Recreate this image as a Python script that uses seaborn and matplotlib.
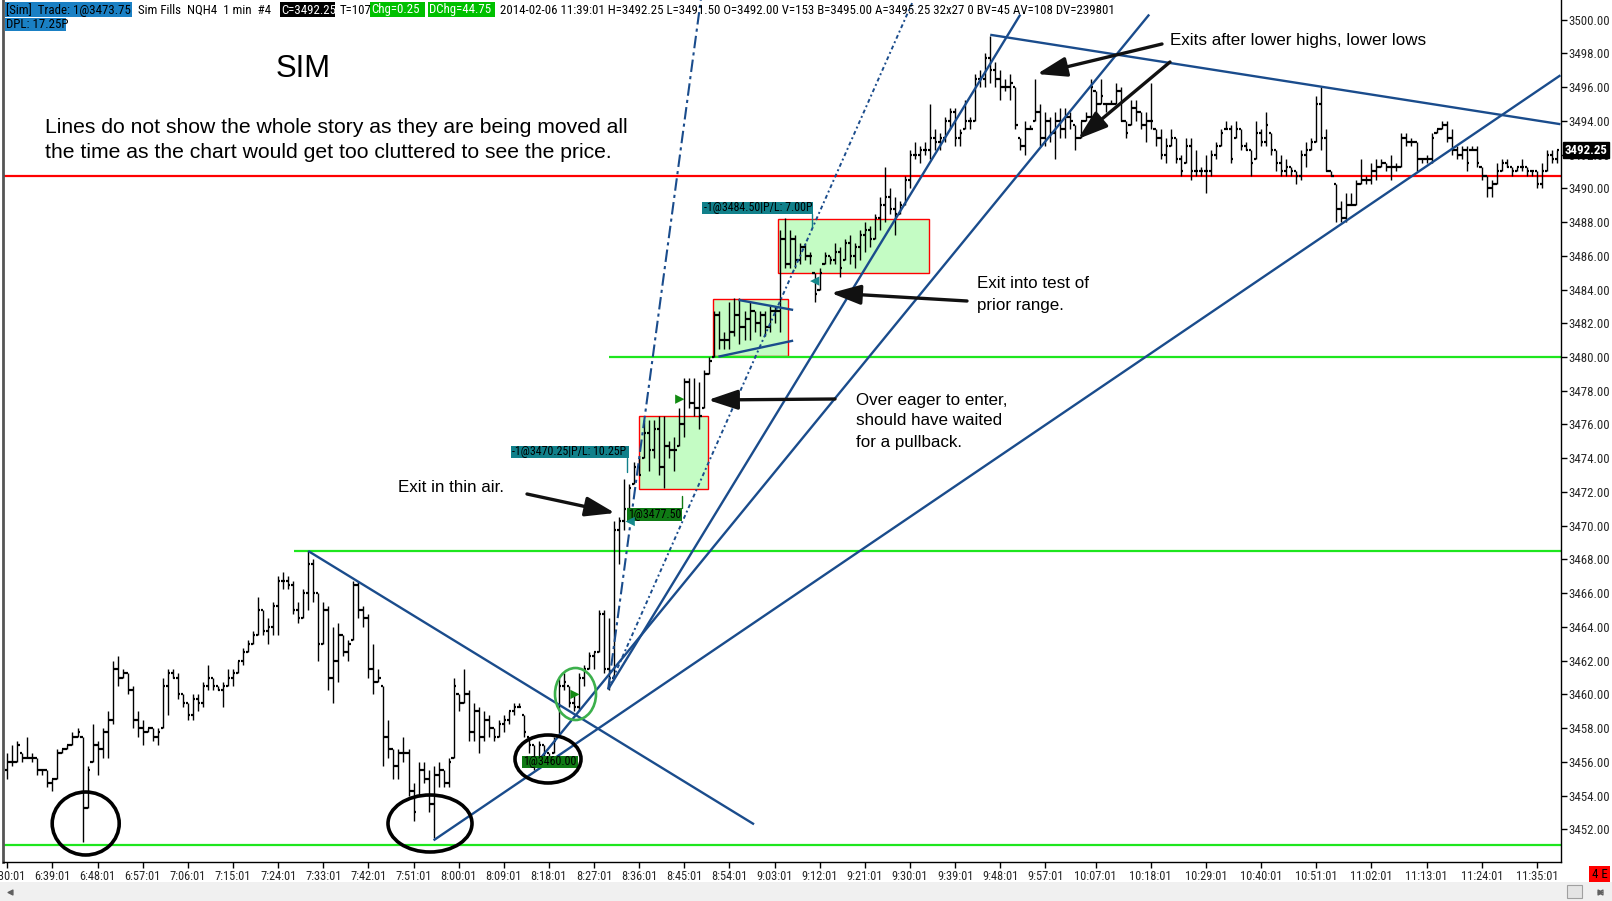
import numpy as np
import pandas as pd
import matplotlib
matplotlib.use("Agg")
import matplotlib.pyplot as plt
import seaborn as sns
from matplotlib.patches import Rectangle, Ellipse
from matplotlib import font_manager as fm

sns.set_theme(style="white")
avail = {f.name for f in fm.fontManager.ttflist}
def pick(*names):
    for n in names:
        if n in avail:
            return n
    return "DejaVu Sans"
NARROW = pick("Liberation Sans Narrow", "DejaVu Sans Condensed", "Roboto Condensed", "Liberation Sans")
SANS = pick("Liberation Sans", "Arial", "DejaVu Sans")
plt.rcParams["font.family"] = [SANS, "DejaVu Sans"]

# ---------------- data (1-minute bars, NQH4, 6:30:01 .. 11:39:01) ----------------
highs = (
 [3456.4,3456.9,3457.3,3456.6,3457.5,3456.5,3456.3,3455.6,3455.6,3455.1] +
 [3456.7,3456.8,3457.1,3457.7,3458.0,3457.5,3455.8,3458.3,3457.3,3458.0] +
 [3459.0,3462.0,3462.3,3461.5,3461.2,3460.4,3459.0,3458.4,3458.1,3458.1] +
 [3458.0,3460.9,3461.5,3461.4,3461.3,3459.9,3459.5,3460.1,3460.1,3460.8] +
 [3461.7,3461.1,3460.5,3460.7,3461.5,3461.6,3462.1,3462.8,3463.3,3463.8] +
 [3465.8,3465.0,3464.6,3465.6,3467.0,3467.2,3467.1,3466.8,3465.6,3466.3] +
 [3468.5,3467.9,3466.0,3465.5,3465.3,3463.9,3464.2,3463.4,3463.3,3466.8] +
 [3466.8,3465.2,3464.7,3462.9,3461.4,3460.6,3458.5,3456.8,3456.8,3457.5] +
 [3456.7,3454.8,3456.0,3456.0,3455.5,3455.8,3456.0,3455.5,3456.3,3461.0] +
 [3460.1,3461.5,3460.2,3459.5,3459.3,3459.0,3458.7,3457.9,3458.5,3458.8] +
 [3459.1,3459.6,3459.6,3458.8,3457.4,3457.1,3457.2,3457.1,3456.6,3457.5] +
 [3461.0,3461.2,3460.6,3459.9,3461.3,3461.7,3462.6,3462.6,3465.0,3465.0] +
 [3464.6,3470.25,3470.6,3472.8,3472.5,3473.8,3474.1,3476.3,3476.3,3476.2] +
 [3476.5,3476.5,3475.1,3475.3,3476.9,3478.7,3478.7,3478.7,3478.6,3479.3] +
 [3479.9,3482.8,3482.7,3481.4,3483.2,3483.4,3483.4,3482.7,3483.3,3482.8] +
 [3482.8,3482.8,3483.1,3483.1,3487.6,3488.2,3487.6,3487.2,3486.8,3486.7] +
 [3486.2,3485.0,3485.3,3486.2,3486.0,3486.8,3486.5,3487.0,3487.3,3486.8] +
 [3487.5,3488.0,3487.8,3488.5,3489.5,3491.3,3489.9,3489.4,3489.3,3490.8] +
 [3492.3,3492.7,3492.6,3492.7,3494.9,3493.6,3493.3,3494.2,3494.7,3494.7] +
 [3493.5,3495.2,3494.3,3496.8,3497.1,3498.0,3499.1,3497.6,3497.0,3496.5] +
 [3496.7,3496.1,3493.1,3494.1,3493.7,3496.4,3494.9,3494.4,3494.3,3494.6] +
 [3494.7,3494.7,3494.5,3493.8,3494.1,3494.4,3496.6,3495.7,3496.4,3495.1] +
 [3495.2,3496.2,3495.9,3494.1,3495.3,3495.2,3494.5,3494.6,3496.2,3493.6] +
 [3493.5,3493.0,3493.6,3493.1,3491.9,3493.0,3493.1,3492.3,3491.3,3491.9] +
 [3492.3,3492.7,3493.6,3493.9,3493.7,3493.9,3493.5,3492.8,3492.3,3493.9] +
 [3493.5,3494.4,3493.2,3492.3,3491.9,3491.7,3491.2,3490.9,3492.3,3492.7] +
 [3492.9,3495.4,3495.9,3493.5,3491.0,3490.2,3489.2,3489.7,3489.8,3490.6] +
 [3491.7,3490.7,3491.6,3491.7,3491.7,3491.6,3491.9,3491.5,3493.3,3493.2] +
 [3492.9,3492.8,3491.8,3492.0,3493.3,3493.6,3493.9,3493.9,3493.6,3492.4] +
 [3492.4,3492.5,3492.4,3492.5,3491.3,3490.7,3490.6,3491.4,3491.8,3491.7] +
 [3491.3,3491.3,3491.7,3491.2,3491.1,3490.9,3491.4,3492.3,3492.3,3492.25]
)
lows = (
 [3455.1,3455.7,3456.1,3456.1,3456.2,3456.1,3455.3,3455.3,3454.4,3454.3] +
 [3455.0,3456.5,3456.7,3457.1,3457.5,3451.2,3453.2,3456.0,3455.3,3456.2] +
 [3456.2,3458.3,3460.6,3460.9,3460.0,3458.1,3457.6,3457.1,3457.8,3457.2] +
 [3457.0,3458.0,3458.8,3460.9,3459.8,3459.3,3458.5,3458.5,3459.1,3459.2] +
 [3460.2,3460.3,3460.2,3459.3,3460.5,3460.6,3461.2,3461.8,3462.4,3463.0] +
 [3463.4,3463.4,3463.0,3463.4,3463.6,3466.3,3466.3,3464.8,3464.2,3464.4] +
 [3465.0,3465.4,3462.0,3462.9,3460.3,3459.6,3460.8,3462.2,3462.0,3463.2] +
 [3464.5,3464.1,3461.0,3459.9,3460.7,3455.8,3456.2,3455.1,3454.9,3456.0] +
 [3453.9,3452.4,3453.9,3454.7,3453.0,3451.4,3454.6,3454.4,3454.5,3456.3] +
 [3459.0,3459.4,3457.3,3457.3,3456.6,3457.2,3457.4,3457.3,3457.5,3457.7] +
 [3458.2,3458.8,3459.2,3457.5,3456.5,3455.4,3456.3,3456.1,3455.9,3456.5] +
 [3457.5,3460.3,3459.3,3459.1,3459.0,3460.5,3461.4,3461.5,3462.4,3461.2] +
 [3460.3,3461.0,3467.8,3469.7,3471.0,3472.4,3472.9,3473.9,3473.3,3474.1] +
 [3473.1,3472.2,3473.9,3473.2,3474.7,3475.2,3476.9,3476.5,3475.8,3477.0] +
 [3479.0,3480.0,3480.4,3480.6,3480.6,3481.2,3480.8,3481.0,3481.1,3481.4] +
 [3481.2,3481.2,3481.6,3481.9,3481.5,3485.2,3485.2,3485.2,3485.4,3485.7] +
 [3485.6,3483.2,3484.0,3485.4,3485.6,3485.5,3484.8,3485.8,3485.5,3485.3] +
 [3485.8,3486.3,3486.5,3487.0,3487.5,3488.1,3488.5,3487.3,3488.5,3489.0] +
 [3490.1,3491.7,3491.5,3491.9,3491.7,3492.2,3492.3,3492.7,3493.5,3492.4] +
 [3492.4,3493.5,3493.6,3494.1,3496.0,3496.1,3496.3,3496.0,3495.3,3495.7] +
 [3495.3,3493.5,3492.2,3492.0,3493.4,3493.9,3492.4,3492.4,3492.7,3491.8] +
 [3492.9,3493.0,3493.6,3492.3,3492.9,3494.0,3494.1,3494.6,3494.9,3494.6] +
 [3494.9,3495.1,3493.9,3493.0,3493.7,3494.1,3493.5,3492.8,3493.5,3492.4] +
 [3491.7,3491.4,3492.4,3491.4,3490.8,3491.5,3490.5,3490.7,3490.7,3489.8] +
 [3490.7,3491.8,3492.4,3493.4,3491.4,3493.0,3492.3,3492.2,3490.7,3491.8] +
 [3492.4,3492.4,3491.9,3491.0,3490.8,3490.8,3490.8,3490.2,3490.6,3491.3] +
 [3492.3,3492.7,3492.3,3490.9,3490.8,3488.1,3488.1,3488.0,3488.9,3488.9] +
 [3490.3,3490.2,3490.3,3490.6,3491.3,3490.9,3490.5,3491.1,3491.2,3492.6] +
 [3492.6,3491.1,3491.6,3491.6,3491.6,3493.3,3493.6,3492.8,3492.0,3491.8] +
 [3491.8,3491.0,3492.2,3491.3,3490.6,3489.6,3489.5,3490.3,3491.1,3491.2] +
 [3490.8,3491.1,3491.0,3490.8,3490.8,3490.1,3490.0,3491.1,3491.5,3491.5]
)
closes = (
 [3456.0,3456.0,3457.0,3456.25,3456.25,3456.25,3455.5,3455.5,3454.75,3455.0] +
 [3456.5,3456.75,3457.0,3457.5,3457.75,3453.25,3455.5,3457.0,3456.75,3457.75] +
 [3458.5,3461.5,3461.0,3461.25,3460.25,3458.5,3458.0,3457.75,3458.0,3457.5] +
 [3457.75,3460.5,3461.25,3461.0,3460.0,3459.5,3458.75,3459.75,3459.5,3460.5] +
 [3461.0,3460.5,3460.25,3460.5,3461.0,3461.25,3462.0,3462.5,3463.0,3463.5] +
 [3465.0,3463.75,3464.0,3465.25,3466.75,3466.75,3466.5,3465.0,3464.5,3466.0] +
 [3467.75,3466.0,3463.0,3465.0,3461.0,3462.0,3463.5,3462.5,3463.0,3466.5] +
 [3465.0,3464.5,3461.5,3460.75,3461.0,3457.5,3456.75,3455.75,3456.5,3456.5] +
 [3454.25,3453.0,3455.5,3455.0,3453.5,3455.25,3455.5,3454.75,3456.0,3460.5] +
 [3459.5,3460.0,3457.75,3459.0,3457.5,3458.5,3458.0,3457.5,3458.25,3458.5] +
 [3459.0,3459.25,3459.25,3457.75,3457.0,3456.25,3457.0,3456.5,3456.25,3457.25] +
 [3460.5,3460.75,3459.5,3459.25,3461.0,3461.5,3462.25,3462.5,3464.75,3461.5] +
 [3461.0,3469.75,3470.25,3471.0,3472.25,3473.5,3473.0,3475.5,3474.5,3475.75] +
 [3473.5,3474.75,3474.5,3474.5,3476.0,3478.5,3477.25,3477.0,3476.5,3479.0] +
 [3479.75,3482.5,3481.0,3481.0,3481.5,3482.5,3481.75,3482.25,3482.75,3482.0] +
 [3482.5,3481.75,3482.75,3482.75,3487.0,3485.5,3487.0,3485.75,3486.5,3486.0] +
 [3486.0,3483.75,3485.0,3486.0,3485.75,3486.25,3485.25,3486.75,3486.0,3486.5] +
 [3487.25,3487.5,3487.0,3488.25,3489.0,3489.5,3488.75,3488.5,3489.0,3490.5] +
 [3492.0,3492.0,3492.25,3492.25,3493.0,3492.75,3493.0,3494.0,3494.5,3493.0] +
 [3493.25,3494.0,3494.0,3496.5,3496.5,3497.75,3497.0,3496.5,3496.0,3496.0] +
 [3496.25,3493.75,3492.5,3493.5,3493.5,3494.5,3493.0,3494.0,3493.25,3494.0] +
 [3493.5,3494.25,3494.0,3493.0,3494.0,3494.25,3496.0,3495.0,3495.5,3495.0] +
 [3495.0,3495.75,3494.0,3493.25,3494.75,3494.5,3493.75,3494.0,3494.0,3493.0] +
 [3492.0,3492.5,3493.0,3491.75,3491.0,3492.5,3491.0,3491.0,3491.0,3491.0] +
 [3492.0,3492.5,3493.25,3493.5,3491.75,3493.5,3492.5,3492.25,3491.5,3493.25] +
 [3492.75,3493.75,3492.25,3491.5,3491.0,3491.25,3491.0,3490.75,3492.0,3492.25] +
 [3492.75,3495.0,3493.0,3491.0,3490.75,3488.75,3488.25,3489.0,3489.0,3490.25] +
 [3490.5,3490.5,3491.0,3491.25,3491.5,3491.25,3491.25,3491.25,3493.0,3492.75] +
 [3492.75,3491.75,3491.75,3491.75,3493.0,3493.5,3493.75,3493.0,3492.25,3492.0] +
 [3492.25,3491.5,3492.25,3491.5,3490.75,3490.0,3490.25,3491.0,3491.5,3491.25] +
 [3491.0,3491.25,3491.25,3491.0,3491.0,3490.25,3491.0,3492.0,3491.75,3492.25]
)
first_open = 3455.5

time_labels = ["6:30:01","6:39:01","6:48:01","6:57:01","7:06:01","7:15:01","7:24:01","7:33:01",
               "7:42:01","7:51:01","8:00:01","8:09:01","8:18:01","8:27:01","8:36:01","8:45:01",
               "8:54:01","9:03:01","9:12:01","9:21:01","9:30:01","9:39:01","9:48:01","9:57:01",
               "10:07:01","10:18:01","10:29:01","10:40:01","10:51:01","11:02:01","11:13:01",
               "11:24:01","11:35:01"]
price_ticks = list(range(3452, 3501, 2))

# horizontal levels: (price, colour, start minute)
levels = [(3490.7, "#ff0000", -1.0), (3480.0, "#1ee61e", 120.0),
          (3468.5, "#1ee61e", 57.2), (3451.1, "#1ee61e", -1.0)]
# trend lines (minute0, price0, minute1, price1, style)
trend_lines = [
    (60.0, 3468.5, 148.9, 3452.3, "-"),
    (85.0, 3451.35, 309.7, 3496.7, "-"),
    (196.0, 3499.1, 309.7, 3493.8, "-"),
    (104.9, 3455.7, 227.7, 3500.3, "-"),
    (119.8, 3460.3, 202.0, 3500.3, "-"),
    (119.8, 3460.3, 180.6, 3501.1, "dots"),
    (119.8, 3460.3, 138.3, 3501.2, "dashdot"),
    (145.8, 3483.38, 156.7, 3482.79, "-"),
    (141.8, 3480.02, 156.7, 3480.97, "-"),
]
# consolidation boxes (minute0, minute1, price_low, price_high)
boxes = [(125.9, 139.8, 3472.2, 3476.5), (140.8, 155.7, 3480.08, 3483.44), (153.7, 183.7, 3484.96, 3488.16)]
# executions
exec_min = [113.2, 124.2, 134.1, 161.0]
exec_px = [3460.0, 3470.25, 3477.5, 3484.5]
exec_side = ["buy", "sell", "buy", "sell"]

# ---------------- figure geometry ----------------
W, H = 1612, 901
fig = plt.figure(figsize=(W / 100, H / 100), dpi=100)
fig.patch.set_facecolor("white")
X0PX, XPM, Y0PX, YPP, P0 = 7.3, 5.015, 357.0, 16.87, 3480.0
def px2m(x): return (x - X0PX) / XPM
def px2p(y): return P0 - (y - Y0PX) / YPP
AX_L, AX_R, AX_T, AX_B = 3, 1560.5, 0, 862
ax = fig.add_axes([AX_L / W, 1 - AX_B / H, (AX_R - AX_L) / W, (AX_B - AX_T) / H])
ax.set_facecolor("white")
ax.set_xlim(px2m(AX_L), px2m(AX_R))
ax.set_ylim(px2p(AX_B), px2p(AX_T))
R = fig.canvas.get_renderer()

def fit_size(text, width, family, base=10, **kw):
    t = fig.text(0, 0, text, fontsize=base, family=family, **kw)
    w = t.get_window_extent(R).width
    t.remove()
    return base * width / w

# ---------------- bars ----------------
hi = np.round(np.array(highs) * 4) / 4
lo = np.round(np.array(lows) * 4) / 4
cl = np.array(closes)
op = np.clip(np.r_[first_open, cl[:-1]], lo, hi)
hi = np.maximum(hi, np.maximum(op, cl))
lo = np.minimum(lo, np.minimum(op, cl))
mins = np.arange(len(cl))
bars = pd.DataFrame({"minute": mins, "open": op, "high": hi, "low": lo, "close": cl})

for m0, m1, pl, ph in boxes:
    ax.add_patch(Rectangle((m0, pl), m1 - m0, ph - pl, fc="#c4fcc4", ec="#ff0000", lw=1.0, zorder=1))
for p, c, start in levels:
    ax.hlines(p, start, 309.8, color=c, lw=1.6, zorder=2)

ax.vlines(bars["minute"], bars["low"], bars["high"], color="black", lw=1.0, zorder=3)
ax.hlines(bars["open"], bars["minute"] - 0.45, bars["minute"], color="black", lw=1.6, zorder=3)
ax.hlines(bars["close"], bars["minute"], bars["minute"] + 0.45, color="black", lw=1.6, zorder=3)

NAVY = "#1a4c8c"
for m0, p0, m1, p1, st in trend_lines:
    if st == "dashdot":
        ax.plot([m0, m1], [p0, p1], color=NAVY, lw=1.5, dashes=(6, 2, 1.5, 2), zorder=4)
    elif st == "dots":
        ax.plot([m0, m1], [p0, p1], color=NAVY, lw=1.4, dashes=(2, 1.5, 1, 1.5), zorder=4)
    else:
        ax.plot([m0, m1], [p0, p1], color=NAVY, lw=1.7, zorder=4, solid_capstyle="butt")

# ellipses (pixel centre / size converted to data units)
for cx, cy, w, h, col, lw in [(85.7, 823.5, 67, 63, "black", 2.6), (430, 823.5, 84, 57, "black", 2.6),
                              (548, 759, 66, 48, "black", 2.6), (575.5, 694, 41, 52, "#3cb04c", 1.9)]:
    ax.add_patch(Ellipse((px2m(cx), px2p(cy)), w / XPM, h / YPP, fill=False, ec=col, lw=lw, zorder=6, clip_on=False))

# execution labels
lab_fs = fit_size("-1@3470.25|P/L: 10.25P", 114, NARROW)
for txt, x0, x1, y0, y1, bg in [("-1@3470.25|P/L: 10.25P", 511, 629, 446, 458, "#11808a"),
                                ("-1@3484.50|P/L: 7.00P", 702, 813, 202, 214, "#11808a"),
                                ("1@3477.50", 627, 682, 508, 521, "#0f7a14"),
                                ("1@3460.00", 522, 578, 756, 768, "#0f7a14")]:
    ax.add_patch(Rectangle((px2m(x0), px2p(y1)), (x1 - x0) / XPM, (y1 - y0) / YPP, fc=bg, ec="none", zorder=5))
    ax.text(px2m(x0 + 1.5), px2p((y0 + y1) / 2), txt, fontsize=lab_fs, family=NARROW, color="black",
            va="center", ha="left", zorder=5)
for x, y0, y1, c in [(626.7, 458, 472, "#11808a"), (812, 214, 227, "#11808a"), (681.7, 496, 508, "#0f7a14")]:
    ax.plot([px2m(x), px2m(x)], [px2p(y0), px2p(y1)], color=c, lw=1.0, zorder=5)

ex = pd.DataFrame({"minute": exec_min, "price": exec_px, "side": exec_side})
sns.scatterplot(data=ex, x="minute", y="price", hue="side", style="side",
                markers={"buy": ">", "sell": "<"}, palette={"buy": "#118a11", "sell": "#14888c"},
                s=45, linewidth=0, legend=False, ax=ax, zorder=7)
ax.set_xlabel(""); ax.set_ylabel("")

# ---------------- axes styling ----------------
tick_m = [(pd.to_datetime(t, format="%H:%M:%S") - pd.to_datetime("6:30:01", format="%H:%M:%S")).seconds / 60
          for t in time_labels]
xfs = fit_size("6:39:01", 36, NARROW)
yfs = fit_size("3500.00", 41, NARROW)
ax.set_xticks(tick_m)
ax.set_xticklabels(time_labels, fontfamily=NARROW, fontsize=xfs)
ax.yaxis.tick_right()
ax.set_yticks(price_ticks)
ax.set_yticklabels([f"{v:.2f}" for v in price_ticks], fontfamily=NARROW, fontsize=yfs)
ax.tick_params(axis="x", direction="out", length=4, width=1, color="black", pad=2, bottom=True)
ax.tick_params(axis="y", direction="out", length=4, width=1, color="black", pad=2, right=True, left=False)
ax.grid(False)
for s in ["top"]:
    ax.spines[s].set_visible(False)
ax.spines["left"].set_color("#555555"); ax.spines["left"].set_linewidth(2.0)
ax.spines["right"].set_color("black"); ax.spines["right"].set_linewidth(1.0)
ax.spines["bottom"].set_color("black"); ax.spines["bottom"].set_linewidth(1.0)

pfs = fit_size("3492.25", 43, NARROW, fontweight="bold")
ax.annotate("3492.25", xy=(1.0, 3492.25), xycoords=("axes fraction", "data"), xytext=(3, 0),
            textcoords="offset points", va="center", ha="left", color="white", fontsize=pfs,
            family=NARROW, fontweight="bold", zorder=10, annotation_clip=False,
            bbox=dict(boxstyle="square,pad=0.12", fc="black", ec="black"))

# ---------------- overlay (pixel coordinates) ----------------
ov = fig.add_axes([0, 0, 1, 1], zorder=10)
ov.set_xlim(0, W); ov.set_ylim(H, 0); ov.axis("off"); ov.patch.set_alpha(0)

long_hdr = "2014-02-06 11:39:01 H=3492.25 L=3491.50 O=3492.00 V=153 B=3495.00 A=3495.25 32x27 0 BV=45 AV=108 DV=239801"
hfs = fit_size(long_hdr, 609, NARROW)
BLUE = "#1a80c4"
header = [("[Sim]  Trade: 1@3473.75", 5, 132, 2, 17, BLUE, "black"),
          ("Sim Fills  NQH4  1 min  #4", 137, 279, 2, 17, None, "black"),
          ("C=3492.25", 280, 335, 2, 17, "black", "white"),
          ("T=107", 338, 368, 2, 17, None, "black"),
          ("Chg=0.25", 370, 425, 2, 17, "#00c000", "white"),
          ("DChg=44.75", 428, 495, 2, 17, "#00c000", "white"),
          (long_hdr, 498, 1109, 2, 17, None, "black"),
          ("DPL: 17.25P", 5, 66, 18, 31, BLUE, "black")]
for txt, x0, x1, y0, y1, bg, fg in header:
    if bg:
        ov.add_patch(Rectangle((x0, y0), x1 - x0, y1 - y0, fc=bg, ec="none"))
    ov.text(x0 + 1.5, (y0 + y1) / 2 + 0.5, txt, fontsize=hfs, family=NARROW, color=fg, va="center", ha="left")

# annotation texts
sim_fs = fit_size("SIM", 55, SANS)
ov.text(303, 69, "SIM", fontsize=sim_fs, ha="center", va="center", color="black")
l1 = "Lines do not show the whole story as they are being moved all"
l2 = "the time as the chart would get too cluttered to see the price."
mfs = fit_size(l1, 586, SANS)
ov.text(45, 127.6, l1, fontsize=mfs, ha="left", va="center", color="black")
ov.text(45, 152.2, l2, fontsize=mfs, ha="left", va="center", color="black")
afs = fit_size("Exits after lower highs, lower lows", 256, SANS)
for txt, x, y in [("Exit in thin air.", 398, 487.6), ("Over eager to enter,", 856, 400),
                  ("should have waited", 856, 420.7), ("for a pullback.", 856, 442),
                  ("Exit into test of", 977, 284), ("prior range.", 977, 305.5),
                  ("Exits after lower highs, lower lows", 1170, 41)]:
    ov.text(x, y, txt, fontsize=afs, ha="left", va="center", color="black")

for tail, head in [((527, 494), (615, 513)), ((835, 399), (708, 400)), ((967, 301), (831, 293)),
                   ((1162, 44), (1037, 74)), ((1170, 62), (1078, 139))]:
    ov.annotate("", xy=head, xytext=tail,
                arrowprops=dict(arrowstyle="-|>,head_length=1.5,head_width=0.5", lw=2.4, color="#111111",
                                shrinkA=0, shrinkB=0))

# scrollbar and status box
ov.add_patch(Rectangle((0, 882), W, 19, fc="#f0f0f0", ec="none"))
ov.add_patch(Rectangle((1567, 885), 15, 13, fc="#e4e4e4", ec="#a0a0a0", lw=0.8))
ov.scatter([10, 1600], [891.5, 891.5], marker="<", s=12, color="#606060")
ov.scatter([1600], [891.5], marker=">", s=12, color="#f0f0f0")
ov.scatter([1600], [891.5], marker=">", s=12, color="#606060")
ov.add_patch(Rectangle((1589, 866), 21, 16, fc="#ff0000", ec="none"))
ov.text(1599.5, 874, "4 E", fontsize=yfs, family=NARROW, ha="center", va="center", color="black")

fig.savefig("out.png", dpi=100)
